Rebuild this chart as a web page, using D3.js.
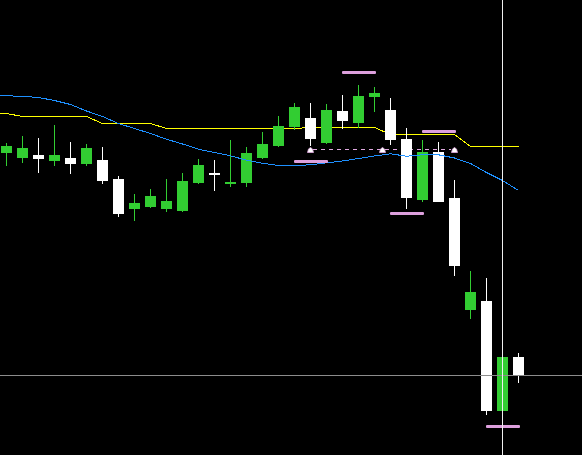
<!DOCTYPE html>
<html>
<head>
<meta charset="utf-8">
<script src="https://cdn.jsdelivr.net/npm/d3@7"></script>
<style>
html,body{margin:0;padding:0;background:#000;overflow:hidden;}
svg{display:block;}
</style>
</head>
<body>
<svg id="chart" width="582" height="455"></svg>
<script>
// Candle data (price levels, higher = higher price)
const openP  = [302,297,300,294,297,291,295,276,246,248,246,244,272,282,271,272,297,309,328,337,312,344,332,358,345,316,255,303,257,145,154,44,98];
const highP  = [312,319,317,330,313,311,308,279,261,266,276,282,296,295,315,308,323,339,352,352,351,360,370,368,357,327,315,313,275,184,177,98,102];
const lowP   = [289,292,282,289,281,289,271,238,234,247,243,243,271,264,268,268,296,308,325,309,311,326,327,343,310,246,253,253,179,136,40,44,72];
const closeP = [309,307,296,300,291,307,274,241,252,259,254,274,290,280,273,302,311,329,348,316,345,334,359,362,315,257,303,253,189,163,44,98,79];

// Moving averages, starting one bar before the first visible candle (index -1)
const blueMA   = [360,359.7,359.2,358,355,351,344.5,339,332,327,322,316.3,311.5,306.3,303,299.7,295.3,292.3,290,290,290.7,292.7,294.5,297,299.5,301.7,299.3,300.7,300.7,297.5,292,283,275,265];
const yellowMA = [342,342,339,339,339,339,339,332,332,332,332,327,327,327,327,327,327,327,327,327,328,328,328,328,328,321,321,321,321,321,309,309,309,309];

// Pink level markers: candle index and level
const markIdx   = [22,19,27,25,31];
const markLevel = [382.5,293.5,323.5,241.5,28.5];

// Dashed level line with arrow markers
const dashLevel = 305.5;
const dashIdx   = [19,23.5,28];

// Crosshair
const crossIdx = 31;
const crossLevel = 79.5;

const W = 582, H = 455;
const svg = d3.select("#chart");
svg.append("rect").attr("width",W).attr("height",H).attr("fill","#000");

const x = d3.scaleLinear().domain([0,32]).range([6,518]);
const y = d3.scaleLinear().domain([0,455]).range([455,0]);

const candles = openP.map((o,i)=>({i,o,h:highP[i],l:lowP[i],c:closeP[i]}));
const maPts = (arr)=>arr.map((v,k)=>({i:k-1,v}));

const line = d3.line().x(d=>x(d.i)+0.5).y(d=>y(d.v)+0.5);

// yellow behind candles
svg.append("path").datum(maPts(yellowMA))
  .attr("d",line).attr("fill","none").attr("stroke","#ffff00")
  .attr("stroke-width",1).attr("shape-rendering","crispEdges");

// dashed level line
svg.append("line")
  .attr("x1",x(dashIdx[0])+3).attr("x2",x(dashIdx[dashIdx.length-1])-3)
  .attr("y1",y(dashLevel)).attr("y2",y(dashLevel))
  .attr("stroke","#e0a8e0").attr("stroke-width",1)
  .attr("stroke-dasharray","4,4").attr("shape-rendering","crispEdges");

// candles
const g = svg.append("g").attr("shape-rendering","crispEdges");
const col = d => d.c >= d.o ? "#32cd32" : "#ffffff";
g.selectAll("line.wick").data(candles).join("line")
  .attr("class","wick")
  .attr("x1",d=>x(d.i)+0.5).attr("x2",d=>x(d.i)+0.5)
  .attr("y1",d=>y(d.h)).attr("y2",d=>y(d.l))
  .attr("stroke",col).attr("stroke-width",1);
g.selectAll("rect.body").data(candles).join("rect")
  .attr("class","body")
  .attr("x",d=>x(d.i)-5).attr("width",11)
  .attr("y",d=>y(Math.max(d.o,d.c)))
  .attr("height",d=>Math.max(1,Math.abs(y(d.o)-y(d.c))))
  .attr("fill",col);

// blue on top
svg.append("path").datum(maPts(blueMA))
  .attr("d",line).attr("fill","none").attr("stroke","#1e90ff")
  .attr("stroke-width",1).attr("shape-rendering","crispEdges");

// arrow markers on dashed line
svg.selectAll("path.arrow").data(dashIdx).join("path")
  .attr("class","arrow")
  .attr("transform",d=>`translate(${x(d)+0.5},${y(dashLevel)+0.5})`)
  .attr("d","M-3,2.5 L-2,-1 L0,-2.5 L2,-1 L3,2.5 Z")
  .attr("fill","#ffffff").attr("stroke","#e0a8e0").attr("stroke-width",0.8);

// pink level bars
svg.selectAll("rect.mark").data(markIdx.map((i,k)=>({i,v:markLevel[k]}))).join("rect")
  .attr("class","mark")
  .attr("x",d=>x(d.i)-16).attr("width",34)
  .attr("y",d=>y(d.v)-1.5).attr("height",3)
  .attr("rx",1)
  .attr("fill","#dda0dd");

// crosshair
svg.append("line")
  .attr("x1",0).attr("x2",W)
  .attr("y1",y(crossLevel)).attr("y2",y(crossLevel))
  .attr("stroke","#8c8c8c").attr("stroke-width",1).attr("shape-rendering","crispEdges");
svg.append("line")
  .attr("x1",x(crossIdx)+0.5).attr("x2",x(crossIdx)+0.5)
  .attr("y1",0).attr("y2",H)
  .attr("stroke","#f0f0f0").attr("stroke-width",1).attr("shape-rendering","crispEdges");
</script>
</body>
</html>
